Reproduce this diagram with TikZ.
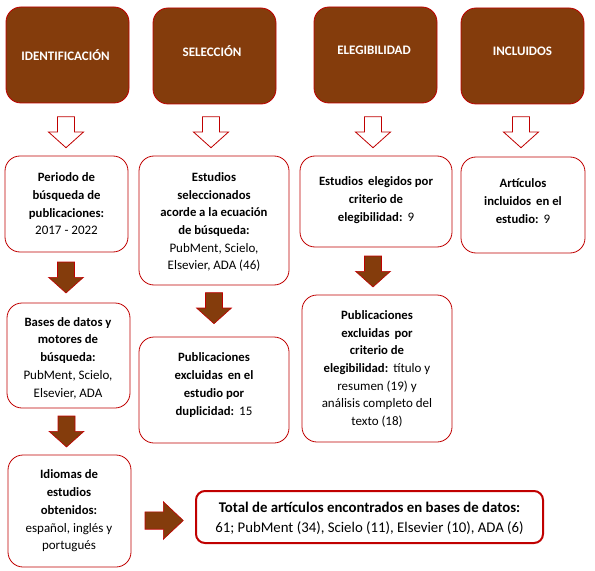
\documentclass[tikz,border=0pt]{standalone}
\usepackage{fontspec}
\setmainfont{Carlito}
\definecolor{brn}{HTML}{843C0C}
\definecolor{rd}{HTML}{C00000}
\newcommand{\rgt}[1]{{\fontsize{13bp}{17.7bp}\selectfont #1}}
\begin{document}
\begin{tikzpicture}[x=1bp,y=-1bp,
  hdr/.style={draw=rd,line width=0.8bp,fill=brn,rounded corners=15bp},
  bx/.style={draw=rd,line width=0.8bp,fill=white,rounded corners=15bp},
  tbx/.style={draw=rd,line width=2bp,fill=white,rounded corners=9bp},
  htxt/.style={text=white,font=\fontsize{13bp}{15bp}\selectfont\bfseries,inner sep=0pt},
  btxt/.style={align=center,font=\fontsize{12.7bp}{17.7bp}\selectfont,inner sep=0pt},
  ttxt/.style={align=center,font=\fontsize{14.8bp}{20bp}\selectfont,inner sep=0pt},
  hollow/.style={draw=rd,line width=0.8bp,fill=white,line join=miter},
  solid/.style={draw=rd,line width=0.6bp,fill=brn,line join=miter},
  pics/darrow/.style={code={
    \path[#1] (-8.5,0) -- (8.5,0) -- (8.5,15.3) -- (17.5,15.3) -- (0,31) -- (-17.5,15.3) -- (-8.5,15.3) -- cycle;}},
  pics/rarrow/.style={code={
    \path[#1] (0,-8.7) -- (18.3,-8.7) -- (18.3,-18.8) -- (38.3,0) -- (18.3,18.8) -- (18.3,8.7) -- (0,8.7) -- cycle;}}
]
\useasboundingbox (0,0) rectangle (595,571);
% header boxes
\path[hdr] (6,7) rectangle (129,103);
\path[hdr] (153,8) rectangle (276,104);
\path[hdr] (314,7) rectangle (437,103);
\path[hdr] (461,8) rectangle (584,104);
\node[htxt] (h1) at (65.5,55) {IDENTIFICACIÓN};
\node[htxt] (h2) at (212,51) {SELECCIÓN};
\node[htxt] (h3) at (374,50) {ELEGIBILIDAD};
\node[htxt] (h4) at (522.5,51) {INCLUIDOS};
% hollow arrows
\pic at (66,116.7) {darrow=hollow};
\pic at (211,116.7) {darrow=hollow};
\pic at (373,116.7) {darrow=hollow};
\pic at (521,116.7) {darrow=hollow};
% boxes
\path[bx] (5,156) rectangle (128,252);
\path[bx] (139,156) rectangle (289,285);
\path[bx] (300,156) rectangle (452,247);
\path[bx] (461,157) rectangle (585,253);
\path[bx] (7,303) rectangle (130,408);
\path[bx] (139,337) rectangle (289,443);
\path[bx] (302,295) rectangle (452,442);
\path[bx] (8,455) rectangle (131,567);
\path[tbx] (196,491) rectangle (543,543);
% texts
\node[btxt] (t1) at (66.5,204) {\textbf{Periodo de}\\\textbf{búsqueda de}\\\textbf{publicaciones:}\\\rgt{2017 - 2022}};
\node[btxt] (t2) at (214,222) {\textbf{Estudios}\\\textbf{seleccionados}\\\textbf{acorde a la ecuación}\\\textbf{de búsqueda:}\\\rgt{PubMent, Scielo,}\\\rgt{Elsevier, ADA (46)}};
\node[btxt] (t3) at (376,200) {\textbf{Estudios\ \,elegidos por}\\\textbf{criterio de}\\\textbf{elegibilidad:}\ \,\rgt{9}};
\node[btxt] (t4) at (523,201) {\textbf{Artículos}\\\textbf{incluidos\ \,en el}\\\textbf{estudio:}\ \,\rgt{9}};
\node[btxt] (t5) at (68,358) {\textbf{Bases de datos y}\\\textbf{motores de}\\\textbf{búsqueda:}\\\rgt{PubMent, Scielo,}\\\rgt{Elsevier, ADA}};
\node[btxt] (t6) at (214,385) {\textbf{Publicaciones}\\\textbf{excluidas\ \,en el}\\\textbf{estudio por}\\\textbf{duplicidad:}\ \,\rgt{15}};
\node[btxt] (t7) at (377,369) {\textbf{Publicaciones}\\\textbf{excluidas\ \,por}\\\textbf{criterio de}\\\textbf{elegibilidad:}\ \,\rgt{título y}\\\rgt{resumen (19) y}\\\rgt{análisis completo del}\\\rgt{texto (18)}};
\node[btxt] (t8) at (69,511) {\textbf{Idiomas de}\\\textbf{estudios}\\\textbf{obtenidos:}\\\rgt{español, inglés y}\\\rgt{portugués}};
\node[ttxt] (t9) at (369.5,518) {\textbf{Total de artículos encontrados en bases de datos:}\\61; PubMent (34), Scielo (11), Elsevier (10), ADA (6)};
% solid arrows
\pic at (66,262) {darrow=solid};
\pic at (214,292.7) {darrow=solid};
\pic at (373,256) {darrow=solid};
\pic at (66.5,416) {darrow=solid};
\pic at (145,520.5) {rarrow=solid};
\end{tikzpicture}
\end{document}
